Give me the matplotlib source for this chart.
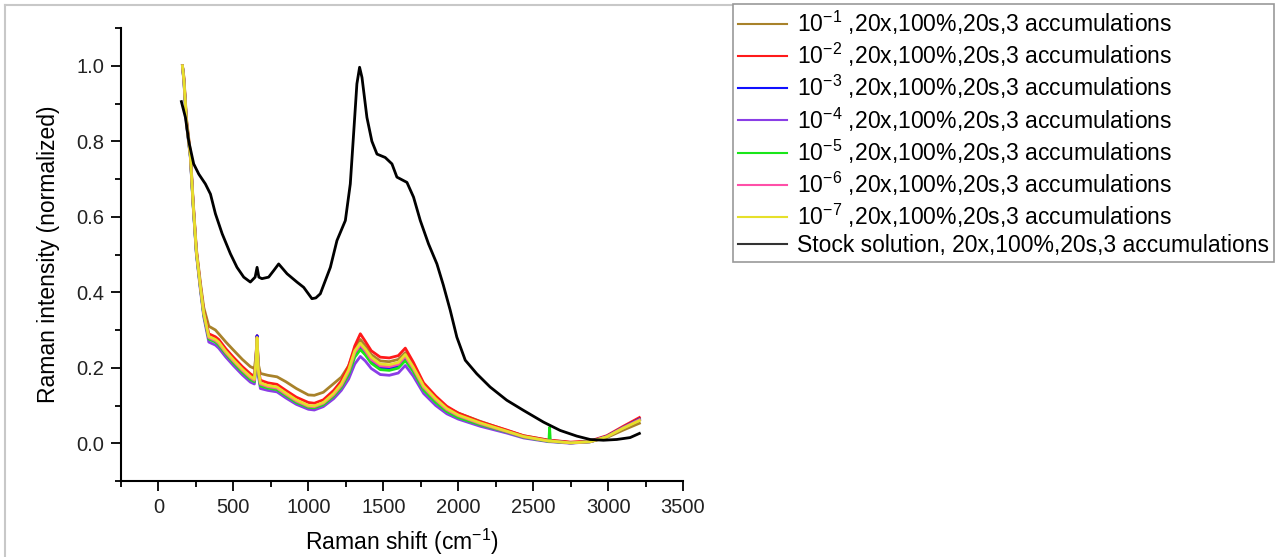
import matplotlib
matplotlib.use('Agg')
import matplotlib.pyplot as plt
from matplotlib.lines import Line2D
from matplotlib.ticker import MultipleLocator

plt.rcParams['font.family'] = ['Liberation Sans', 'DejaVu Sans']
plt.rcParams['mathtext.fontset'] = 'custom'
plt.rcParams['mathtext.rm'] = 'Liberation Sans'
plt.rcParams['mathtext.it'] = 'Liberation Sans'

# Raman shift grid of the diluted samples (cm-1)
shift_dil = [160, 170, 187, 213, 231, 253, 280, 302,
             336, 380, 402, 450, 502, 560, 613, 640,
             650, 658, 666, 680, 730, 791, 850, 920,
             1000, 1040, 1100, 1169, 1220, 1269, 1310, 1347,
             1380, 1420, 1480, 1540, 1600, 1647, 1700, 1769,
             1850, 1924, 2000, 2147, 2324, 2436, 2605, 2610,
             2615, 2750, 2880, 2991, 3102, 3209]

dil_1 = [1.0, 0.97, 0.86, 0.77, 0.645, 0.515, 0.425, 0.36,
         0.31, 0.30, 0.29, 0.268, 0.246, 0.222, 0.203, 0.198,
         0.23, 0.28, 0.21, 0.185, 0.18, 0.176, 0.163, 0.145,
         0.128, 0.127, 0.135, 0.158, 0.175, 0.205, 0.25, 0.275,
         0.258, 0.235, 0.218, 0.216, 0.222, 0.24, 0.205, 0.155,
         0.12, 0.095, 0.08, 0.058, 0.034, 0.02, 0.008, 0.008,
         0.008, 0.002, 0.004, 0.015, 0.035, 0.053]
dil_2 = [1.0, 0.965, 0.855, 0.765, 0.64, 0.51, 0.418, 0.35,
         0.29, 0.282, 0.275, 0.25, 0.227, 0.203, 0.184, 0.177,
         0.22, 0.285, 0.2, 0.167, 0.16, 0.156, 0.14, 0.122,
         0.108, 0.106, 0.115, 0.14, 0.165, 0.205, 0.258, 0.29,
         0.27, 0.245, 0.228, 0.226, 0.232, 0.252, 0.215, 0.16,
         0.125, 0.098, 0.08, 0.057, 0.035, 0.02, 0.008, 0.008,
         0.008, 0.003, 0.006, 0.02, 0.045, 0.068]
dil_3 = [1.0, 0.96, 0.85, 0.76, 0.635, 0.505, 0.412, 0.343,
         0.279, 0.271, 0.263, 0.239, 0.215, 0.191, 0.172, 0.166,
         0.215, 0.285, 0.19, 0.155, 0.149, 0.145, 0.129, 0.111,
         0.097, 0.096, 0.105, 0.128, 0.152, 0.188, 0.236, 0.255,
         0.24, 0.218, 0.2, 0.198, 0.204, 0.224, 0.194, 0.145,
         0.112, 0.087, 0.071, 0.051, 0.031, 0.017, 0.006, 0.006,
         0.006, 0.001, 0.004, 0.018, 0.042, 0.064]
dil_4 = [1.0, 0.955, 0.845, 0.755, 0.63, 0.5, 0.405, 0.335,
         0.268, 0.26, 0.252, 0.228, 0.205, 0.181, 0.162, 0.157,
         0.2, 0.27, 0.18, 0.145, 0.14, 0.136, 0.12, 0.103,
         0.09, 0.088, 0.097, 0.118, 0.14, 0.17, 0.21, 0.23,
         0.218, 0.198, 0.182, 0.18, 0.186, 0.206, 0.178, 0.132,
         0.1, 0.078, 0.064, 0.045, 0.027, 0.014, 0.004, 0.004,
         0.004, 0.0, 0.004, 0.018, 0.042, 0.062]
dil_5 = [1.0, 0.958, 0.848, 0.758, 0.633, 0.503, 0.41, 0.34,
         0.276, 0.268, 0.26, 0.236, 0.212, 0.188, 0.169, 0.163,
         0.21, 0.278, 0.188, 0.152, 0.146, 0.142, 0.126, 0.108,
         0.095, 0.094, 0.102, 0.125, 0.148, 0.182, 0.228, 0.248,
         0.234, 0.212, 0.195, 0.193, 0.199, 0.219, 0.19, 0.141,
         0.108, 0.084, 0.068, 0.049, 0.03, 0.016, 0.005, 0.042,
         0.005, 0.001, 0.004, 0.017, 0.041, 0.062]
dil_6 = [1.0, 0.96, 0.85, 0.76, 0.637, 0.507, 0.413, 0.344,
         0.28, 0.272, 0.265, 0.24, 0.217, 0.193, 0.174, 0.167,
         0.212, 0.28, 0.192, 0.157, 0.15, 0.146, 0.13, 0.112,
         0.098, 0.097, 0.106, 0.129, 0.153, 0.19, 0.24, 0.26,
         0.245, 0.222, 0.205, 0.203, 0.209, 0.23, 0.198, 0.148,
         0.115, 0.089, 0.073, 0.052, 0.031, 0.017, 0.006, 0.006,
         0.006, 0.001, 0.004, 0.017, 0.041, 0.062]
dil_7 = [1.0, 0.962, 0.852, 0.762, 0.638, 0.508, 0.415, 0.346,
         0.283, 0.275, 0.268, 0.243, 0.22, 0.196, 0.177, 0.17,
         0.215, 0.28, 0.195, 0.16, 0.153, 0.149, 0.133, 0.115,
         0.1, 0.099, 0.108, 0.132, 0.157, 0.195, 0.245, 0.265,
         0.25, 0.228, 0.21, 0.208, 0.214, 0.235, 0.202, 0.152,
         0.118, 0.092, 0.075, 0.054, 0.032, 0.018, 0.006, 0.006,
         0.006, 0.001, 0.004, 0.017, 0.04, 0.06]

# stock solution
shift_stock = [153, 180, 202, 235, 269, 313, 347, 380, 425, 480, 524, 569, 613, 645,
               658, 670, 690, 735, 770, 802, 830, 858, 924, 969, 1024, 1050, 1080,
               1147, 1191, 1247, 1280, 1302, 1324, 1342, 1358, 1391, 1424, 1458, 1513,
               1558, 1591, 1658, 1702, 1747, 1802, 1858, 1900, 1947, 1991, 2047, 2124,
               2213, 2324, 2436, 2569, 2680, 2791, 2880, 2969, 3058, 3147, 3209]
stock = [0.905, 0.863, 0.80, 0.74, 0.713, 0.687, 0.66, 0.608, 0.555, 0.502, 0.466, 0.44,
         0.427, 0.44, 0.466, 0.44, 0.436, 0.44, 0.458, 0.475, 0.462, 0.449, 0.427, 0.413,
         0.383, 0.385, 0.396, 0.466, 0.537, 0.59, 0.687, 0.819, 0.952, 0.996, 0.969, 0.863,
         0.80, 0.766, 0.757, 0.74, 0.705, 0.691, 0.652, 0.59, 0.528, 0.475, 0.42, 0.352,
         0.281, 0.22, 0.184, 0.149, 0.114, 0.087, 0.056, 0.034, 0.019, 0.010, 0.008, 0.010,
         0.015, 0.026]

dilutions = [dil_1, dil_2, dil_3, dil_4, dil_5, dil_6, dil_7]
colors = ['#a8822a', '#ff1a1a', '#1010ff', '#8a3ee6', '#19e619', '#ff4fa8', '#e6e02a']
exps = ['-1', '-2', '-3', '-4', '-5', '-6', '-7']
labels = ['10$^{%s}$ ,20x,100%%,20s,3 accumulations' % e for e in exps]
stock_label = 'Stock solution, 20x,100%,20s,3 accumulations'

fig = plt.figure(figsize=(12.88, 5.57), dpi=100)
ax = fig.add_axes([121 / 1288, 1 - 481 / 557, (683 - 121) / 1288, (481 - 28) / 557])

for y, c in zip(dilutions, colors):
    ax.plot(shift_dil, y, color=c, lw=2)
ax.plot(shift_stock, stock, color='black', lw=2)

ax.set_xlim(-250, 3500)
ax.set_ylim(-0.1, 1.1)
ax.xaxis.set_major_locator(MultipleLocator(500))
ax.xaxis.set_minor_locator(MultipleLocator(250))
ax.yaxis.set_major_locator(MultipleLocator(0.2))
ax.yaxis.set_minor_locator(MultipleLocator(0.1))
ax.yaxis.set_major_formatter(plt.FuncFormatter(lambda v, p: '%.1f' % v))
for s in ['top', 'right']:
    ax.spines[s].set_visible(False)
for s in ['left', 'bottom']:
    ax.spines[s].set_linewidth(1.5)
ax.tick_params(which='major', direction='out', length=7, width=1.3, labelsize=14.5,
               colors='black', labelcolor='#222222')
ax.tick_params(which='minor', direction='out', length=4, width=1.3)
ax.tick_params(axis='x', pad=5)
ax.tick_params(axis='y', pad=5)
ax.set_xlabel('Raman shift (cm$^{-1}$)', fontsize=16.5, labelpad=7)
ax.set_ylabel('Raman intensity (normalized)', fontsize=16.5, labelpad=12)

handles = [Line2D([0], [0], color=c, lw=1.5) for c in colors]
handles.append(Line2D([0], [0], color='#333333', lw=1.5))
leg = fig.legend(handles, labels + [stock_label], loc='upper left',
                 bbox_to_anchor=(733 / 1288, 1 - 4 / 557), fontsize=16.5,
                 frameon=True, fancybox=False, framealpha=1, edgecolor='#999999',
                 handlelength=2.15, handletextpad=0.44, borderpad=0.22,
                 labelspacing=0.17, borderaxespad=0)
leg.get_frame().set_linewidth(1.2)

# outer screenshot border
fig.add_artist(Line2D([5 / 1288, 733 / 1288], [1 - 5 / 557, 1 - 5 / 557],
                      transform=fig.transFigure, color='#c8c8c8', lw=1.5))
fig.add_artist(Line2D([5 / 1288, 5 / 1288], [0, 1 - 5 / 557],
                      transform=fig.transFigure, color='#c8c8c8', lw=1.5))

fig.savefig('out.png', dpi=100)
